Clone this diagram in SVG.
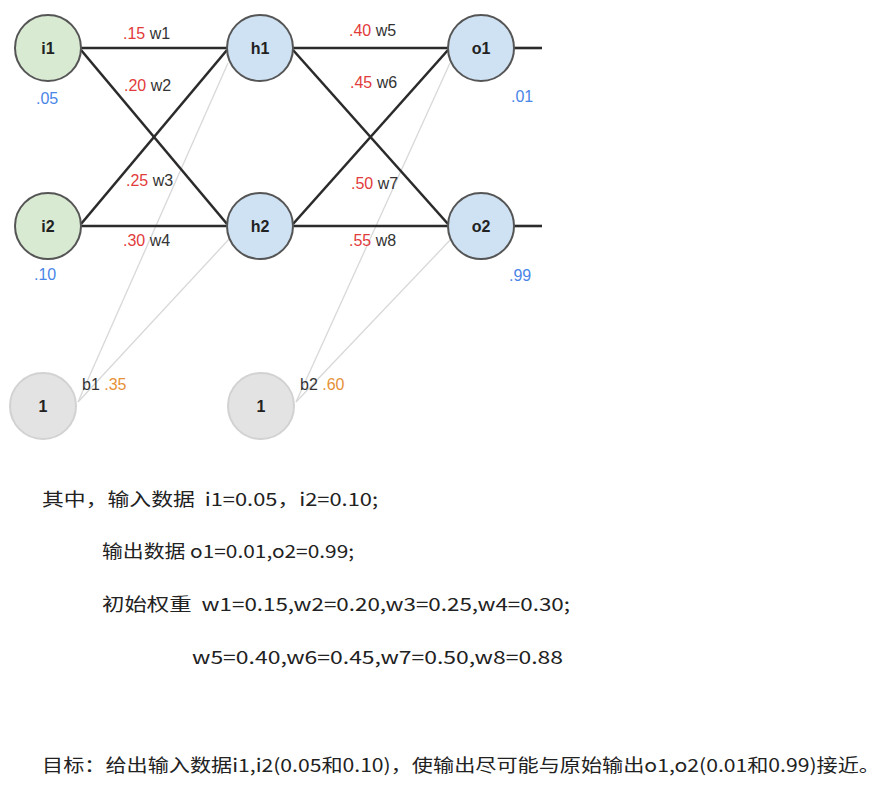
<svg xmlns="http://www.w3.org/2000/svg" width="892" height="793" viewBox="0 0 892 793">
<style>
.edge{stroke:#2b2b2b;stroke-width:2.6;fill:none}
.bias{stroke:#d8d8d8;stroke-width:1.3;fill:none}
.nin{fill:#d9ead3;stroke:#555;stroke-width:2}
.nhid{fill:#cfe2f3;stroke:#555;stroke-width:2}
.nb{fill:#e3e3e3;stroke:#d2d2d2;stroke-width:2}
.lbl{font-family:"Liberation Sans",Arial,sans-serif;font-weight:bold;font-size:16px;fill:#222;text-anchor:middle}
.w{font-family:"Liberation Sans",Arial,sans-serif;font-size:16px;fill:#333}
.r{fill:#e23b3b}
.b{font-family:"Liberation Sans",Arial,sans-serif;font-size:16px;fill:#4a86e8}
.o{fill:#e69138}
.t{font-family:"Microsoft YaHei","Noto Sans CJK SC",sans-serif;font-size:18px;fill:#222;white-space:pre}
</style>
<g id="connectors">
<line class="bias" x1="78" y1="402" x2="228" y2="63"/>
<line class="bias" x1="78" y1="402" x2="231" y2="237"/>
<line class="bias" x1="296" y1="402" x2="450" y2="63"/>
<line class="bias" x1="296" y1="402" x2="453" y2="237"/>
<line class="edge" x1="81" y1="48" x2="227" y2="48"/>
<line class="edge" x1="81" y1="50" x2="227" y2="224"/>
<line class="edge" x1="81" y1="224" x2="227" y2="50"/>
<line class="edge" x1="81" y1="226" x2="227" y2="226"/>
<line class="edge" x1="293" y1="48" x2="448" y2="48"/>
<line class="edge" x1="293" y1="50" x2="448" y2="224"/>
<line class="edge" x1="293" y1="224" x2="448" y2="50"/>
<line class="edge" x1="293" y1="226" x2="448" y2="226"/>
<line class="edge" x1="514" y1="48" x2="542" y2="48"/>
<line class="edge" x1="514" y1="226" x2="542" y2="226"/>
</g>
<g id="i1"><circle class="nin" cx="48" cy="48" r="33"/><text class="lbl" x="48" y="54">i1</text></g>
<g id="i2"><circle class="nin" cx="48" cy="226" r="33"/><text class="lbl" x="48" y="232">i2</text></g>
<g id="h1"><circle class="nhid" cx="260" cy="48" r="33"/><text class="lbl" x="260" y="54">h1</text></g>
<g id="h2"><circle class="nhid" cx="260" cy="226" r="33"/><text class="lbl" x="260" y="232">h2</text></g>
<g id="o1"><circle class="nhid" cx="481" cy="48" r="33"/><text class="lbl" x="481" y="54">o1</text></g>
<g id="o2"><circle class="nhid" cx="481" cy="226" r="33"/><text class="lbl" x="481" y="232">o2</text></g>
<g id="b1"><circle class="nb" cx="43" cy="406" r="33"/><text class="lbl" x="43" y="412">1</text></g>
<g id="b2"><circle class="nb" cx="261" cy="406" r="33"/><text class="lbl" x="261" y="412">1</text></g>
<g id="labels">
<text class="w" x="123" y="39"><tspan class="r">.15</tspan> w1</text>
<text class="w" x="124" y="91"><tspan class="r">.20</tspan> w2</text>
<text class="w" x="126" y="186"><tspan class="r">.25</tspan> w3</text>
<text class="w" x="123" y="246"><tspan class="r">.30</tspan> w4</text>
<text class="w" x="349" y="36"><tspan class="r">.40</tspan> w5</text>
<text class="w" x="350" y="88"><tspan class="r">.45</tspan> w6</text>
<text class="w" x="351" y="189"><tspan class="r">.50</tspan> w7</text>
<text class="w" x="349" y="246"><tspan class="r">.55</tspan> w8</text>
<text class="b" x="36" y="104">.05</text>
<text class="b" x="34" y="280">.10</text>
<text class="b" x="511" y="102">.01</text>
<text class="b" x="509" y="281">.99</text>
<text class="w" x="82" y="390">b1 <tspan class="o">.35</tspan></text>
<text class="w" x="300" y="390">b2 <tspan class="o">.60</tspan></text>
</g>
<g id="text">
<text class="t" xml:space="preserve" x="42" y="506" textLength="336" lengthAdjust="spacingAndGlyphs">其中，输入数据  i1=0.05，i2=0.10;</text>
<text class="t" x="102" y="558" textLength="252" lengthAdjust="spacingAndGlyphs">输出数据 o1=0.01,o2=0.99;</text>
<text class="t" xml:space="preserve" x="102" y="611" textLength="468" lengthAdjust="spacingAndGlyphs">初始权重  w1=0.15,w2=0.20,w3=0.25,w4=0.30;</text>
<text class="t" x="192" y="664" textLength="371" lengthAdjust="spacingAndGlyphs">w5=0.40,w6=0.45,w7=0.50,w8=0.88</text>
<text class="t" x="42" y="772" textLength="838" lengthAdjust="spacingAndGlyphs">目标：给出输入数据i1,i2(0.05和0.10)，使输出尽可能与原始输出o1,o2(0.01和0.99)接近。</text>
</g>
</svg>
